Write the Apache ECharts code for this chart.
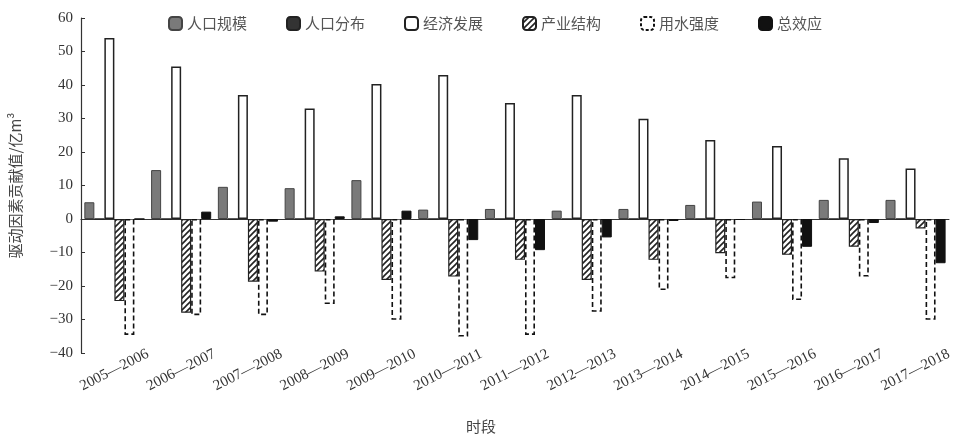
<!DOCTYPE html>
<html>
<head>
<meta charset="utf-8">
<script src="https://cdn.jsdelivr.net/npm/echarts@6/dist/echarts.min.js"></script>
<style>
  html, body { margin: 0; padding: 0; background: #fff; }
  #chart { width: 955px; height: 442px; }
</style>
</head>
<body>
<div id="chart"></div>
<script>
// 时段
const periods = ['2005—2006', '2006—2007', '2007—2008', '2008—2009', '2009—2010', '2010—2011',
  '2011—2012', '2012—2013', '2013—2014', '2014—2015', '2015—2016', '2016—2017', '2017—2018'];

// 各驱动因素贡献值 (亿m³)
const popScale   = [5.0, 14.6, 9.6, 9.2, 11.6, 2.8, 3.0, 2.5, 3.0, 4.2, 5.2, 5.7, 5.7];
const popDist    = [0, 0, 0, 0, 0, 0, 0, 0, 0, 0, 0, 0, 0];
const economy    = [54, 45.5, 37, 33, 40.3, 43, 34.6, 37, 29.9, 23.6, 21.8, 18.1, 15.1];
const industry   = [-24.5, -28, -18.7, -15.7, -18.2, -17.2, -12.2, -18.2, -12.2, -10.2, -10.7, -8.3, -2.8];
const waterInt   = [-34.6, -28.7, -28.7, -25.4, -30.1, -35.1, -34.6, -27.7, -21.2, -17.7, -24.2, -17.2, -30.1];
const totalEff   = [0, 2.2, -0.8, 0.8, 2.5, -6.3, -9.3, -5.5, -0.6, -0.3, -8.3, -1.2, -13.2];

const seriesNames = ['人口规模', '人口分布', '经济发展', '产业结构', '用水强度', '总效应'];
const yTicks = { min: -40, max: 60, step: 10 };

// diagonal hatch fill for 产业结构
function hatch() {
  const c = document.createElement('canvas');
  c.width = 6; c.height = 6;
  const g = c.getContext('2d');
  g.fillStyle = '#fff';
  g.fillRect(0, 0, 6, 6);
  g.strokeStyle = '#222';
  g.lineWidth = 1.6;
  g.beginPath();
  g.moveTo(-1, 7); g.lineTo(7, -1);
  g.moveTo(-4, 4); g.lineTo(4, -4);
  g.moveTo(2, 10); g.lineTo(10, 2);
  g.stroke();
  return c;
}

const serif = '"Liberation Serif", "Noto Sans CJK SC", serif';
const cjk = '"Noto Sans CJK SC", "Liberation Serif", sans-serif';

const chart = echarts.init(document.getElementById('chart'), null, { renderer: 'canvas' });

const styles = [
  { color: '#7a7a7a', borderColor: '#444', borderWidth: 1 },
  { color: '#333333', borderColor: '#222', borderWidth: 1 },
  { color: '#ffffff', borderColor: '#222', borderWidth: 1.5 },
  { color: { image: hatch(), repeat: 'repeat' }, borderColor: '#222', borderWidth: 1.2 },
  { color: '#ffffff', borderColor: '#111', borderWidth: 1.6, borderType: [5, 3] },
  { color: '#111111', borderColor: '#111', borderWidth: 1 }
];
const values = [popScale, popDist, economy, industry, waterInt, totalEff];

chart.setOption({
  animation: false,
  backgroundColor: '#fff',
  grid: { left: 80, right: 6, top: 18, bottom: 89 },
  legend: {
    left: 163, top: 11,
    itemWidth: 13, itemHeight: 13, itemGap: 39,
    textStyle: { fontFamily: cjk, fontSize: 15, color: '#555' },
    data: seriesNames.map((name, i) => i === 4
      ? { name, itemStyle: { color: '#fff', borderColor: '#111', borderWidth: 2, borderType: [3, 2] } }
      : { name })
  },
  xAxis: [
    {
      type: 'category', data: periods,
      axisLine: { onZero: true, lineStyle: { color: '#333', width: 1.2 } },
      axisTick: { show: false }, axisLabel: { show: false }
    },
    {
      type: 'category', data: periods, position: 'bottom',
      axisLine: { show: false, onZero: false }, axisTick: { show: false },
      axisLabel: {
        interval: 0, rotate: 27, align: 'center', verticalAlign: 'middle', margin: 17,
        fontFamily: serif, fontSize: 15, color: '#333'
      }
    }
  ],
  yAxis: {
    type: 'value', min: yTicks.min, max: yTicks.max, interval: yTicks.step,
    name: '驱动因素贡献值/亿m³', nameLocation: 'middle', nameGap: 58, nameRotate: 90,
    nameTextStyle: { fontFamily: cjk, fontSize: 15, color: '#444' },
    axisLine: { show: true, lineStyle: { color: '#333', width: 1.2 } },
    axisTick: { show: true, inside: true, length: 4, lineStyle: { color: '#333' } },
    splitLine: { show: false },
    axisLabel: {
      fontFamily: serif, fontSize: 15, color: '#333', margin: 8,
      formatter: v => (v < 0 ? '−' + Math.abs(v) : String(v))
    }
  },
  graphic: [{
    type: 'text', left: 466, top: 419,
    style: { text: '时段', font: '15px ' + cjk, fill: '#444' }
  }],
  series: seriesNames.map((name, i) => ({
    name, type: 'bar', xAxisIndex: 0,
    data: values[i],
    barGap: '0%', barCategoryGap: '10%',
    itemStyle: styles[i]
  }))
});
</script>
</body>
</html>
